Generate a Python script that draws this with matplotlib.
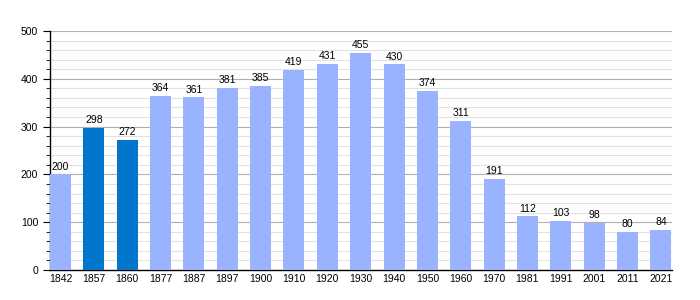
import numpy as np
import matplotlib.pyplot as plt
from matplotlib.ticker import MultipleLocator

plt.rcParams['font.family'] = ['Liberation Sans', 'DejaVu Sans']

years = ["1842", "1857", "1860", "1877", "1887", "1897", "1900", "1910", "1920", "1930",
         "1940", "1950", "1960", "1970", "1981", "1991", "2001", "2011", "2021"]
population = [200, 298, 272, 364, 361, 381, 385, 419, 431, 455,
              430, 374, 311, 191, 112, 103, 98, 80, 84]
highlight = ["1857", "1860"]

fig = plt.figure(figsize=(7, 3), dpi=100)
ax = fig.add_axes([50/700, 30/300, 622/700, 239/300])

x = np.arange(len(years))
colors = ["#0077cc" if y in highlight else "#99b3ff" for y in years]
w = 0.63
ax.bar(x, population, width=w, color=colors, zorder=3)

for xi, v in zip(x, population):
    ax.text(xi, v + 6, str(v), ha="center", va="bottom", fontsize=7.5, zorder=4)

ax.set_xlim(-w/2, len(years) - 1 + w/2 + 0.02)
ax.set_ylim(0, 500)
ax.set_xticks(x)
ax.set_xticklabels(years, fontsize=7.5)
ax.yaxis.set_major_locator(MultipleLocator(100))
ax.yaxis.set_minor_locator(MultipleLocator(20))
ax.tick_params(axis="y", labelsize=7.5, length=5, width=0.8)
ax.tick_params(axis="y", which="minor", length=3, width=0.6)
ax.tick_params(axis="x", length=0, pad=3)

ax.grid(axis="y", which="major", color="#b0b0b0", lw=0.8, zorder=0)
ax.grid(axis="y", which="minor", color="#e2e2e2", lw=0.8, zorder=0)

for s in ["top", "right"]:
    ax.spines[s].set_visible(False)
ax.spines["left"].set_linewidth(1)
ax.spines["bottom"].set_linewidth(1)

fig.savefig("out.png", dpi=100)
